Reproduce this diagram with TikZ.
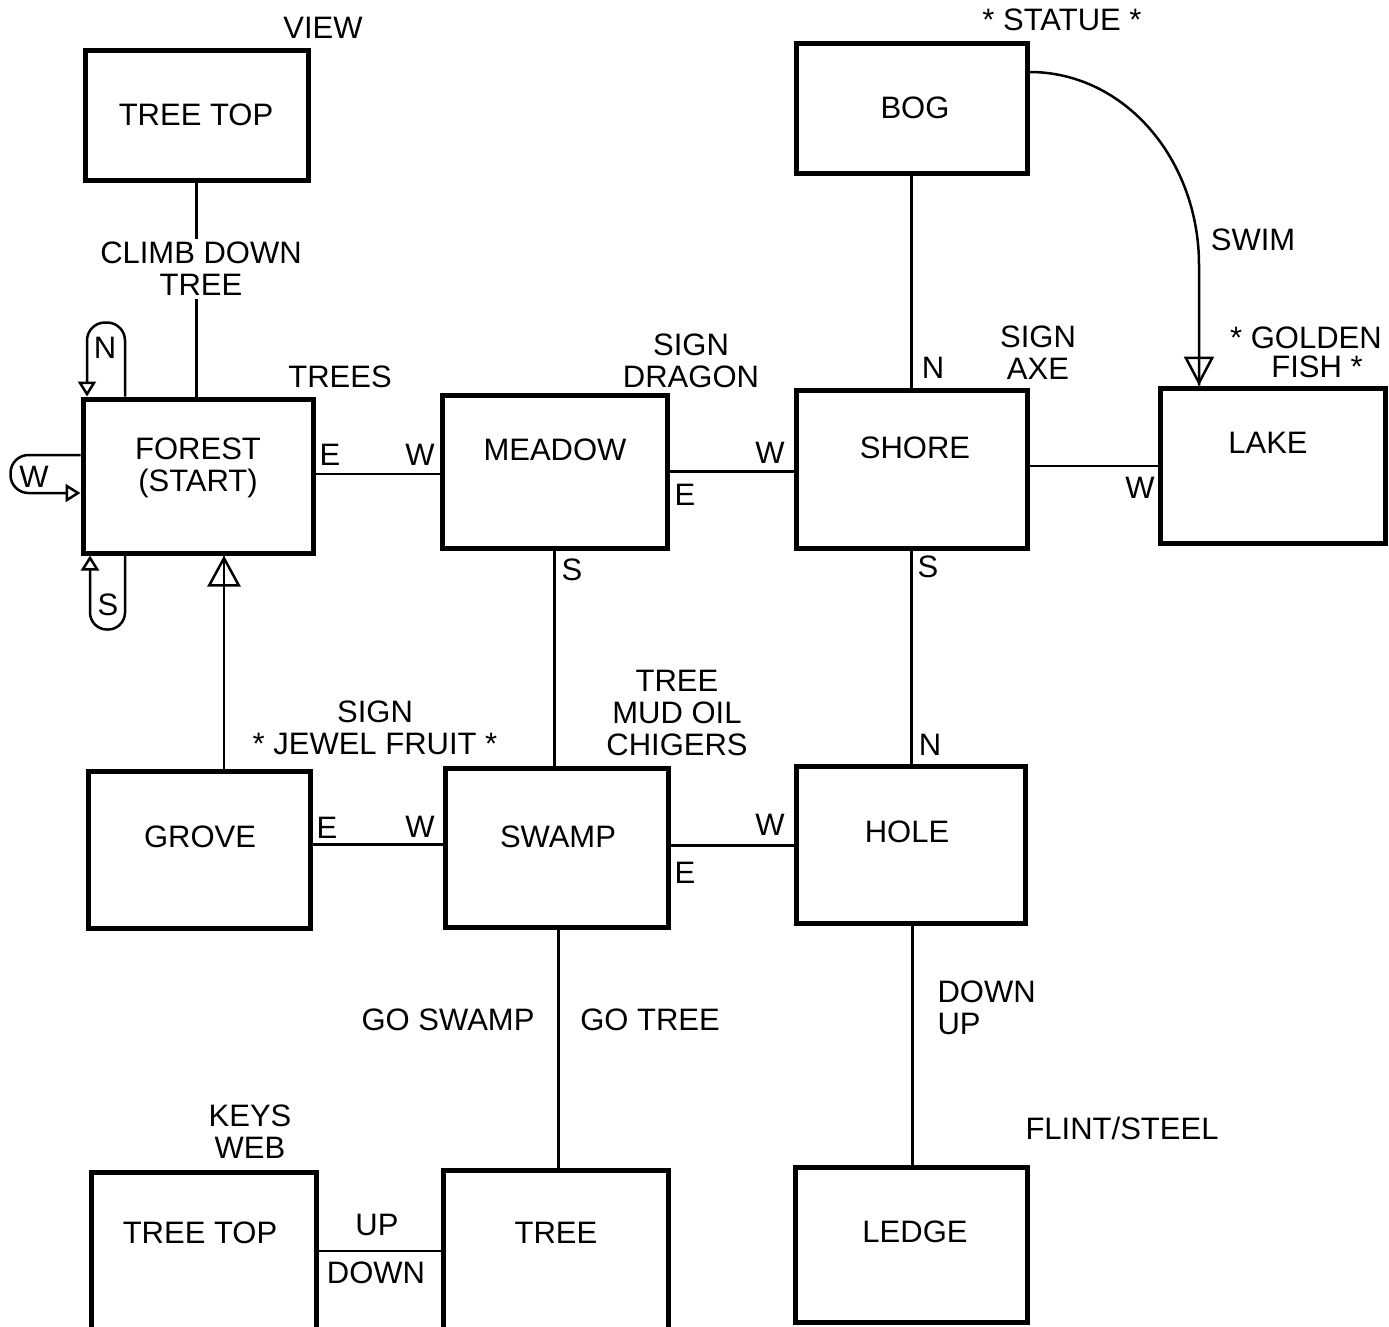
\documentclass[tikz,border=0pt]{standalone}
\usepackage{fontspec}
\setmainfont{Liberation Sans}
\usetikzlibrary{arrows.meta, positioning, calc}
\tikzset{room/.style={draw, rectangle, line width=5pt, inner sep=0pt}}
\tikzset{link/.style={line width=2.5pt}}
\tikzset{looplink/.style={line width=2.5pt, rounded corners=18pt, -{Triangle[open, width=18pt, length=15pt]}}}
\tikzset{bigtip/.style={line width=2.5pt, -{Triangle[open, width=33pt, length=31pt]}}}

\begin{document}
\begin{tikzpicture}[x=1pt, y=-1pt, font=\fontsize{31}{32}\selectfont]
\useasboundingbox (0,0) rectangle (1389,1326);
\clip (0,0) rectangle (1389,1326);
\fill[white] (0,0) rectangle (1389,1326);

% rooms
\node[room, minimum width=223pt, minimum height=130pt] (TopN) at (196.5,115) {};
\node[room, minimum width=231pt, minimum height=130pt] (Bog) at (911.5,108) {};
\node[room, minimum width=230pt, minimum height=154pt] (Forest) at (198,476) {};
\node[room, minimum width=225pt, minimum height=153pt] (Meadow) at (554.5,471.5) {};
\node[room, minimum width=231pt, minimum height=158pt] (Shore) at (911.5,469) {};
\node[room, minimum width=225pt, minimum height=155pt] (Lake) at (1272.5,465.5) {};
\node[room, minimum width=222pt, minimum height=157pt] (Grove) at (199,849.5) {};
\node[room, minimum width=223pt, minimum height=159pt] (Swamp) at (556.5,847.5) {};
\node[room, minimum width=229pt, minimum height=157pt] (Hole) at (910.5,844.5) {};
\node[room, minimum width=225pt, minimum height=158pt] (TopS) at (203.5,1251) {};
\node[room, minimum width=225pt, minimum height=160pt] (Tree) at (555.5,1250) {};
\node[room, minimum width=232pt, minimum height=155pt] (Ledge) at (911,1244.5) {};

% room names
\node at (196,115) {TREE TOP};
\node at (915,108) {BOG};
\node[align=center] at (198,468) {FOREST\\(START)};
\node at (555,450) {MEADOW};
\node at (915,448) {SHORE};
\node at (1268,443) {LAKE};
\node at (200,837) {GROVE};
\node at (558,837) {SWAMP};
\node at (907,832) {HOLE};
\node at (200,1233) {TREE TOP};
\node at (556,1233) {TREE};
\node at (915,1232) {LEDGE};

% connectors
\draw[link] (TopN.south) -- (TopN.south |- Forest.north);
\draw[link] (Bog.south) -- (Bog.south |- Shore.north);
\draw[link] ([yshift=2pt]Forest.east) -- ([yshift=2pt]Forest.east -| Meadow.west);
\draw[link] (Meadow.east) -- (Meadow.east -| Shore.west);
\draw[link] ([yshift=3pt]Shore.east) -- ([yshift=3pt]Shore.east -| Lake.west);
\draw[link] (Meadow.south) -- (Meadow.south |- Swamp.north);
\draw[link] (Shore.south) -- (Shore.south |- Hole.north);
\draw[link] ([yshift=5pt]Grove.east) -- ([yshift=5pt]Grove.east -| Swamp.west);
\draw[link] ([yshift=2pt]Swamp.east) -- ([yshift=2pt]Swamp.east -| Hole.west);
\draw[link] ([xshift=2pt]Swamp.south) -- ([xshift=2pt]Swamp.south |- Tree.north);
\draw[link] ([xshift=2pt]Hole.south) -- ([xshift=2pt]Hole.south |- Ledge.north);
\draw[link] (TopS.east) -- (TopS.east -| Tree.west);

% one way: grove up to forest
\draw[link] ([xshift=25pt]Grove.north) -- ([xshift=25pt]Grove.north |- Forest.south);
\draw[bigtip] ([xshift=25pt]Grove.north) -- ([xshift=25pt]Grove.north |- Forest.south);

% one way: swim from bog to lake
\coordinate (SwimTurn) at (1199,265);
\draw[link] ([yshift=36pt]Bog.east) .. controls (1125,72) and (1199,160) .. (SwimTurn) -- (SwimTurn |- Lake.north);
\draw[bigtip, -{Triangle[open, width=30pt, length=29pt]}] (SwimTurn) -- (SwimTurn |- Lake.north);

% loops on the forest
\draw[looplink] ([xshift=-73pt]Forest.north) -- ++(0,-74) -- ++(-38,0) -- ([xshift=-111pt]Forest.north);
\draw[looplink] ([yshift=21pt]Forest.west) -- ++(-70,0) -- ++(0,38) -- ([yshift=-17pt]Forest.west);
\draw[looplink, rounded corners=17pt] ([xshift=-73pt]Forest.south) -- ++(0,74) -- ++(-35,0) -- ([xshift=-108pt]Forest.south);

% labels
\node[fill=white, align=center, inner sep=3pt] (Climb) at (201,269) {CLIMB DOWN\\TREE};
\node (View) at (323,28) {VIEW};
\node (LoopN) at (105,348) {N};
\node (LoopW) at (34,477) {W};
\node (LoopS) at (108,605) {S};
\node (Trees) at (340,377) {TREES};
\node (FE) at (330,455) {E};
\node (MW) at (420,455) {W};
\node[align=center] (Dragon) at (691,361) {SIGN\\DRAGON};
\node (SW) at (770,453) {W};
\node (ME) at (685,495) {E};
\node (MS) at (572,570) {S};
\node (SN) at (933,368) {N};
\node[align=center] (Axe) at (1038,353) {SIGN\\AXE};
\node (Statue) at (1062,20) {* STATUE *};
\node (Swim) at (1253,240) {SWIM};
\node (Golden) at (1306,338) {* GOLDEN};
\node (Fish) at (1317,367) {FISH *};
\node (LW) at (1140,488) {W};
\node (SS) at (928,567) {S};
\node[align=center] (Chigers) at (677,713) {TREE\\MUD OIL\\CHIGERS};
\node[align=center] (Jewel) at (375,728) {SIGN\\* JEWEL FRUIT *};
\node (GE) at (327,828) {E};
\node (SwW) at (420,827) {W};
\node (HW) at (770,825) {W};
\node (SwE) at (685,873) {E};
\node (HN) at (930,745) {N};
\node[align=left, anchor=west] (DownUp) at (934,1008) {DOWN\\UP};
\node (GoSwamp) at (448,1020) {GO SWAMP};
\node (GoTree) at (650,1020) {GO TREE};
\node (Flint) at (1122,1128) {FLINT/STEEL};
\node[align=center] (Keys) at (250,1132) {KEYS\\WEB};
\node (TU) at (377,1225) {UP};
\node (TD) at (376,1273) {DOWN};
\end{tikzpicture}
\end{document}
